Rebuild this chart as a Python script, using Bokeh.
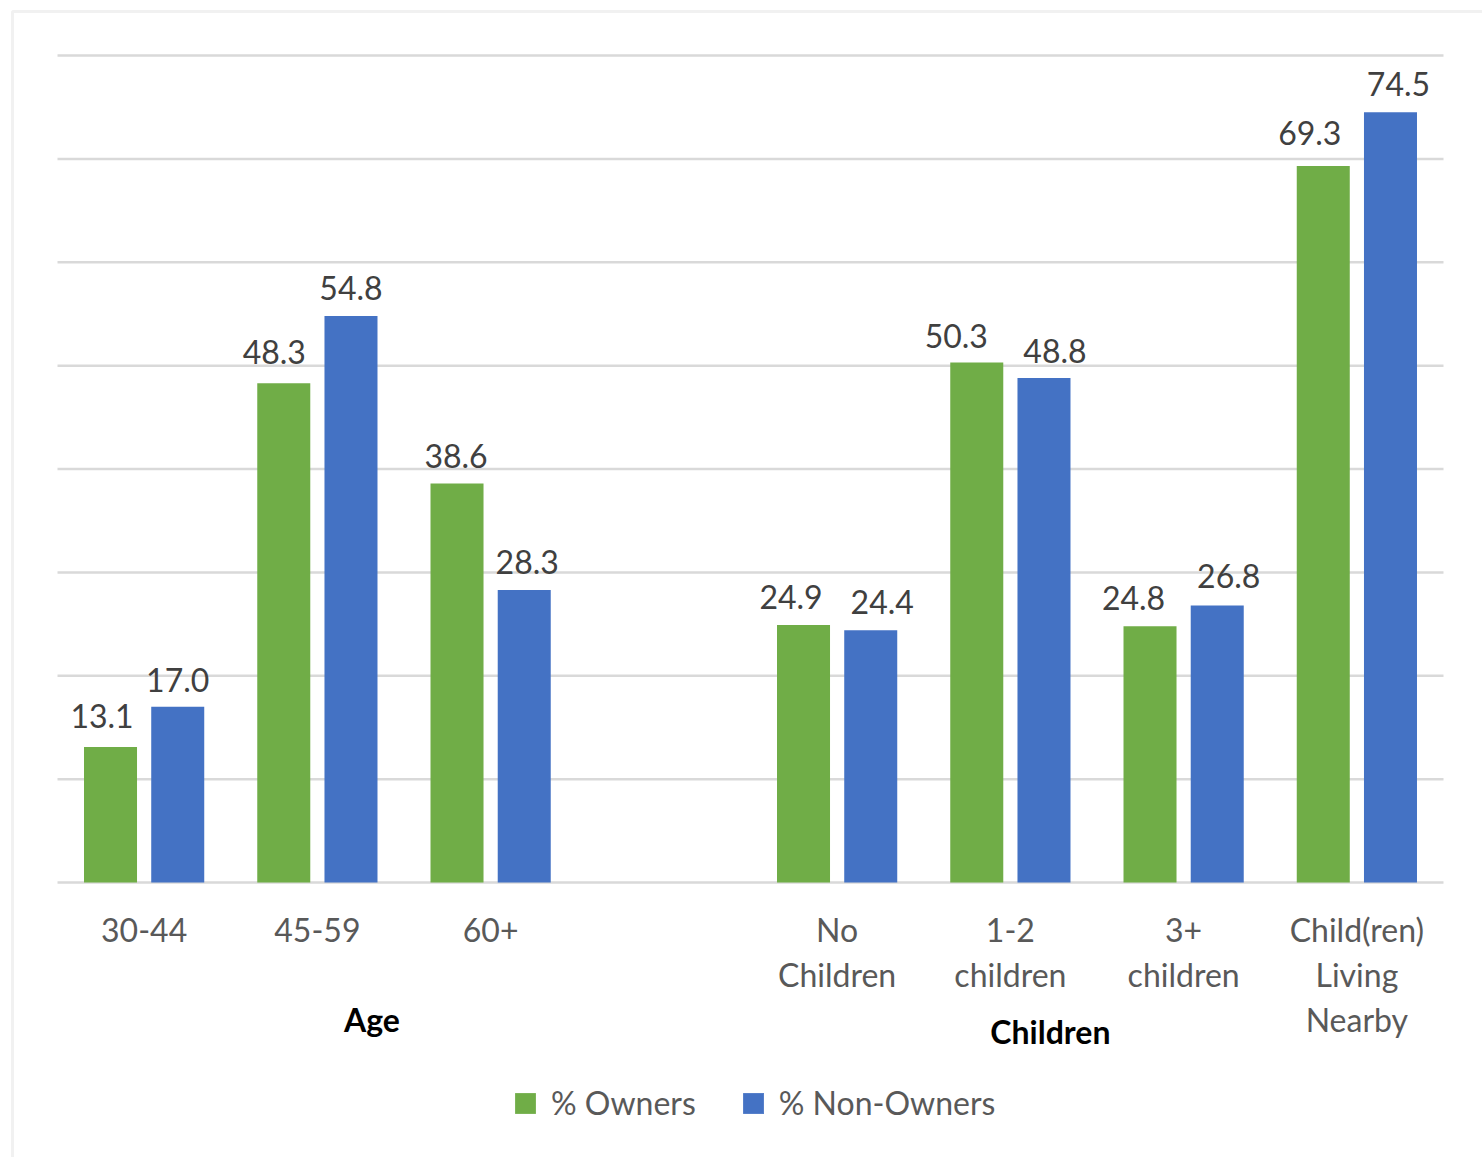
from bokeh.plotting import figure
from bokeh.models import ColumnDataSource, Range1d, BoxAnnotation, Legend, LegendItem
from bokeh.core.properties import value
from bokeh.embed import file_html
from bokeh.resources import INLINE

# ---------------- data ----------------
categories = ["30-44", "45-59", "60+", "No\nChildren", "1-2\nchildren",
              "3+\nchildren", "Child(ren)\nLiving\nNearby"]
groups = ["Age", "Age", "Age", "Children", "Children", "Children", "Children"]
group_names = ["Age", "Children"]
owners = [13.1, 48.3, 38.6, 24.9, 50.3, 24.8, 69.3]
non_owners = [17.0, 54.8, 28.3, 24.4, 48.8, 26.8, 74.5]
series_names = ["% Owners", "% Non-Owners"]
y_ticks = [0, 10, 20, 30, 40, 50, 60, 70, 80]

# ---------------- layout / style ----------------
W, H = 1482, 1157
px_left, px_right = 57, 1443
px_zero, px_top = 882, 55
n_slots = 8            # 7 categories + one empty slot between groups
ymax = 80
ux = (px_right - px_left) / n_slots
uy = (px_zero - px_top) / ymax

GREEN = "#70AD47"
BLUE = "#4472C4"
GRID = "#D9D9D9"
FONT = "Lato"
bar_w = 0.306
bar_off = 0.194

# label nudges (px) mimicking the original's label collision avoidance
own_dx = [-8.5, -9.5, -1, -12.5, -20.5, -16.5, -13.5]
own_gap = [31, 31, 27, 28, 27, 28, 33]
non_dx = [0, 0, 3, 11.5, 11, 11.5, 8]
non_gap = [27, 28, 28, 28, 27, 29, 28]
group_label_x = [1.815, 5.731]
group_label_dy = [137, 149]

gap_slot = {"Age": 0, "Children": 1}
xs = [i + gap_slot[g] + 0.5 for i, g in enumerate(groups)]

p = figure(width=W, height=H, output_backend="svg", toolbar_location=None,
           x_range=Range1d(-px_left / ux, (W - px_left) / ux),
           y_range=Range1d(-(H - px_zero) / uy, px_zero / uy),
           x_axis_type=None, y_axis_type=None, min_border=0,
           background_fill_color="white", border_fill_color="white")
p.outline_line_color = None
p.grid.visible = False

# outer chart border
p.add_layout(BoxAnnotation(left=12, top=11, right=W + 20, bottom=H + 20,
                           left_units="canvas", right_units="canvas",
                           top_units="canvas", bottom_units="canvas",
                           fill_alpha=0, line_color="#D0D0D0", line_width=3))

# gridlines
p.segment(x0=[0] * len(y_ticks), x1=[n_slots] * len(y_ticks),
          y0=y_ticks, y1=y_ticks, line_color=GRID, line_width=2.5)

src = ColumnDataSource(dict(
    x_own=[x - bar_off for x in xs], x_non=[x + bar_off for x in xs],
    owners=owners, non_owners=non_owners,
    own_txt=[f"{v:.1f}" for v in owners], non_txt=[f"{v:.1f}" for v in non_owners],
    own_dx=own_dx, non_dx=non_dx,
    own_dy=[-g for g in own_gap], non_dy=[-g for g in non_gap],
))

r_own = p.vbar(x="x_own", top="owners", bottom=0, width=bar_w, source=src,
               fill_color=GREEN, line_color=None)
r_non = p.vbar(x="x_non", top="non_owners", bottom=0, width=bar_w, source=src,
               fill_color=BLUE, line_color=None)

lbl = dict(text_align="center", text_baseline="alphabetic", text_font=value(FONT),
           text_font_size="32px", text_color="#404040")
p.text(x="x_own", y="owners", text="own_txt", x_offset="own_dx", y_offset="own_dy",
       source=src, **lbl)
p.text(x="x_non", y="non_owners", text="non_txt", x_offset="non_dx", y_offset="non_dy",
       source=src, **lbl)

# category tick labels (one text per line)
tx, ty, tt, toff = [], [], [], []
for x, c in zip(xs, categories):
    for j, line in enumerate(c.split("\n")):
        tx.append(x); ty.append(0); tt.append(line); toff.append(47 + 45 * j)
p.text(x=tx, y=ty, text=tt, y_offset=toff, text_align="center",
       text_baseline="alphabetic", text_font=value(FONT), text_font_size="32px",
       text_color="#595959")

# group labels
p.text(x=group_label_x, y=[0, 0], text=group_names, y_offset=group_label_dy,
       text_align="center", text_baseline="alphabetic", text_font=value(FONT),
       text_font_size="32px", text_font_style="bold", text_color="#000000")

legend = Legend(items=[LegendItem(label=series_names[0], renderers=[r_own]),
                       LegendItem(label=series_names[1], renderers=[r_non])],
                orientation="horizontal", location=(512, 35),
                glyph_width=26, glyph_height=26, label_standoff=13, spacing=44,
                padding=0, margin=0, border_line_alpha=0, background_fill_alpha=0,
                label_text_font=FONT, label_text_font_size="32px",
                label_text_color="#595959")
p.add_layout(legend, "center")

open("out.html", "w").write(file_html(p, INLINE))
